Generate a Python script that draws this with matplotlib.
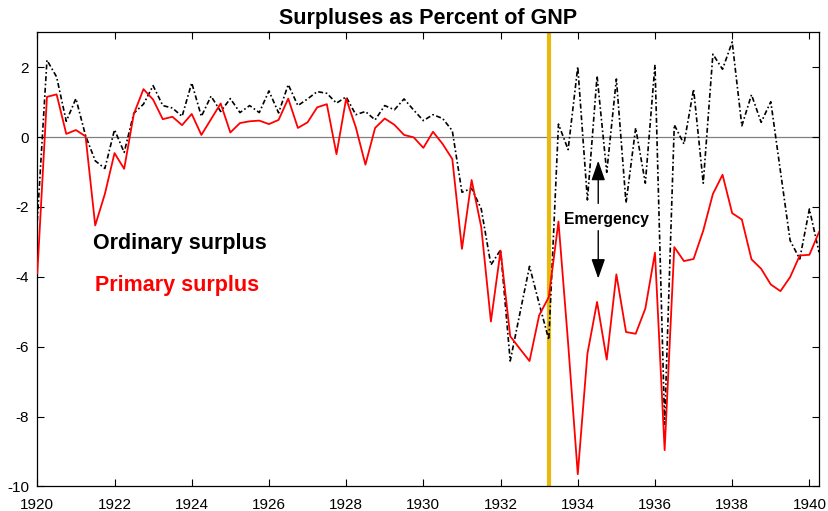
import numpy as np
import matplotlib
matplotlib.use("Agg")
import matplotlib.pyplot as plt

plt.rcParams['font.family'] = ['Liberation Sans', 'DejaVu Sans']
plt.rcParams['axes.unicode_minus'] = False

# quarterly observations, 1920Q1 .. 1940Q2
start_year = 1920.0
step = 0.25

ordinary = [
    -2.4, 2.2, 1.72, 0.45, 1.1, 0.04, -0.68, -0.9, 0.21, -0.44,
    0.68, 0.94, 1.47, 0.9, 0.83, 0.59, 1.55, 0.59, 1.17, 0.73,
    1.1, 0.7, 0.9, 0.7, 1.32, 0.69, 1.5, 0.9, 1.09, 1.3,
    1.25, 0.97, 1.15, 0.64, 0.73, 0.49, 0.9, 0.78, 1.09, 0.77,
    0.47, 0.64, 0.53, 0.18, -1.58, -1.47, -2.06, -3.66, -3.23, -6.41,
    -5.05, -3.7, -4.77, -5.8, 0.37, -0.36, 2.01, -1.8, 1.75, -1.01,
    1.66, -1.89, 0.26, -1.32, 2.07, -8.22, 0.35, -0.2, 1.37, -1.32,
    2.37, 1.94, 2.72, 0.32, 1.21, 0.42, 1.01, -0.98, -2.96, -3.49,
    -2.06, -3.3,
]

primary = [
    -3.9, 1.15, 1.22, 0.09, 0.2, 0.02, -2.53, -1.63, -0.46, -0.91,
    0.66, 1.37, 1.07, 0.51, 0.58, 0.34, 0.66, 0.06, 0.51, 0.96,
    0.13, 0.4, 0.45, 0.47, 0.37, 0.49, 1.1, 0.26, 0.42, 0.85,
    0.94, -0.49, 1.1, 0.28, -0.79, 0.26, 0.53, 0.35, 0.06, -0.01,
    -0.31, 0.15, -0.2, -0.63, -3.2, -1.23, -2.58, -5.28, -3.25, -5.7,
    -6.06, -6.41, -5.1, -4.58, -2.42, -5.9, -9.65, -6.2, -4.72, -6.37,
    -3.93, -5.58, -5.63, -4.91, -3.31, -8.96, -3.15, -3.55, -3.49, -2.68,
    -1.63, -1.08, -2.18, -2.36, -3.5, -3.77, -4.22, -4.41, -4.01, -3.39,
    -3.37, -2.72,
]

emergency_date = 1933.25
xticks = [1920, 1922, 1924, 1926, 1928, 1930, 1932, 1934, 1936, 1938, 1940]
yticks = [-10, -8, -6, -4, -2, 0, 2]

t = start_year + step * np.arange(len(ordinary))

fig = plt.figure(figsize=(8.29, 5.11), dpi=100)
ax = fig.add_axes([0.045, 0.048, 0.943, 0.889])

ax.axhline(0, color='#808080', lw=0.9, zorder=1)
ax.axvline(emergency_date, color='#E8B90A', lw=3, zorder=2)
ax.plot(t, ordinary, color='black', lw=1.2, linestyle=(0, (3, 1.5, 1, 1.5)), zorder=3)
ax.plot(t, primary, color='#FF0000', lw=1.3, zorder=4)

ax.set_xlim(1920, 1940.25)
ax.set_ylim(-10, 3)
ax.set_xticks(xticks)
ax.set_yticks(yticks)
ax.tick_params(direction='in', top=True, right=True, labelsize=11, length=5)
ax.tick_params(axis='x', pad=8)
ax.tick_params(axis='y', pad=6)
for s in ax.spines.values():
    s.set_linewidth(0.9)

ax.set_title('Surpluses as Percent of GNP', fontsize=15.5, fontweight='bold', pad=6)

ax.text(1921.44, -3.05, 'Ordinary surplus', fontsize=15.5, fontweight='bold',
        color='black', va='center', ha='left')
ax.text(1921.5, -4.25, 'Primary surplus', fontsize=15.5, fontweight='bold',
        color='#FF0000', va='center', ha='left')

ax.text(1934.75, -2.37, 'Emergency', fontsize=11.3, fontweight='bold',
        va='center', ha='center')
arrow = dict(arrowstyle='-|>,head_length=1.0,head_width=0.35', color='black',
             lw=1, mutation_scale=12, shrinkA=0, shrinkB=0)
ax.annotate('', xy=(1934.53, -0.68), xytext=(1934.53, -1.9), arrowprops=arrow)
ax.annotate('', xy=(1934.53, -4.05), xytext=(1934.53, -2.68), arrowprops=arrow)

fig.savefig('out.png', dpi=100)
